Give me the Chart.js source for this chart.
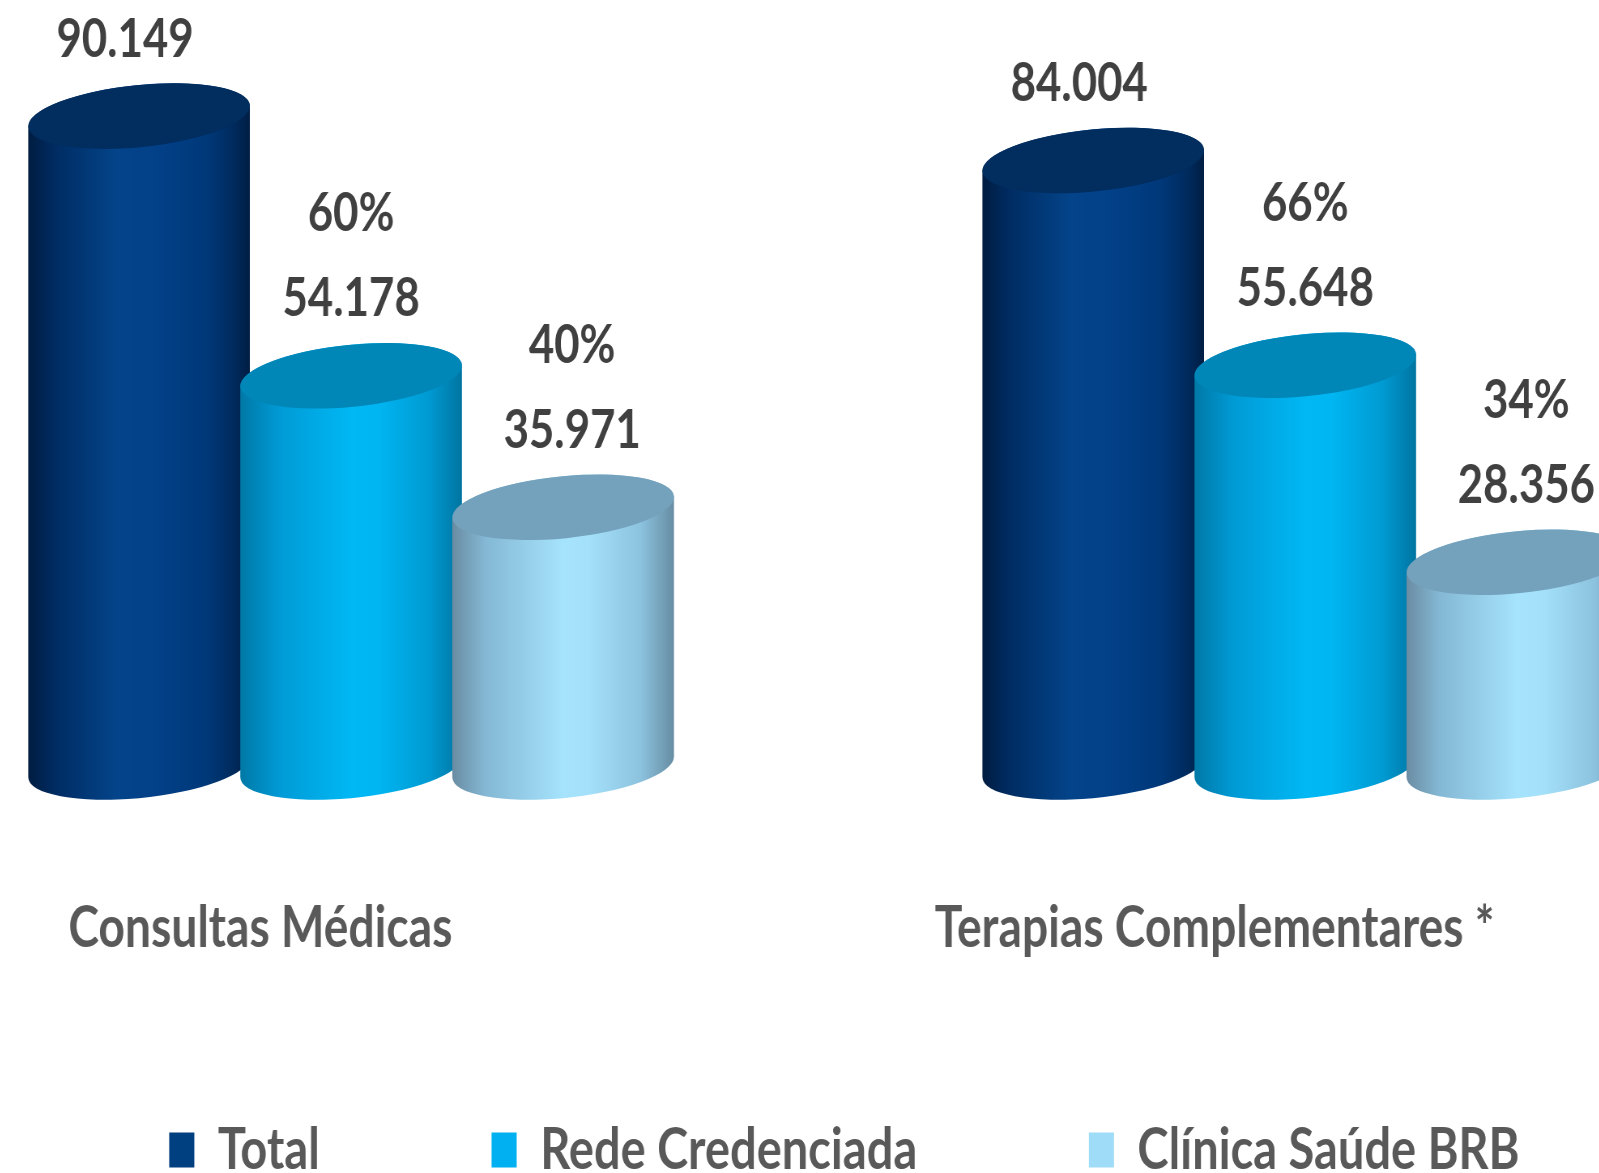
<!DOCTYPE html>
<html lang="pt-BR">
<head>
<meta charset="utf-8">
<title>Consultas Médicas e Terapias Complementares</title>
<script src="https://cdn.jsdelivr.net/npm/chart.js@4.4.1/dist/chart.umd.min.js"></script>
<style>
  html, body { margin: 0; padding: 0; background: #fff; overflow: hidden; }
  #moldura { position: relative; width: 1599px; height: 1173px; overflow: hidden; background: #fff; }
  /* canvas mais largo que a janela, comprimido na horizontal (fonte condensada) */
  #grafico { position: absolute; left: -126px; top: 0; width: 2396px; height: 1189px;
             transform: scaleX(0.81); transform-origin: 0 0; }
</style>
</head>
<body>
<div id="moldura"><canvas id="grafico" width="2396" height="1189"></canvas></div>
<script>
var categorias = ['Consultas Médicas', 'Terapias Complementares *'];
var series = ['Total', 'Rede Credenciada', 'Clínica Saúde BRB'];
var total = [90149, 84004];
var redeCredenciada = [54178, 55648];
var clinicaBRB = [35971, 28356];

var ESTREITO = 0.81;   // mesmo fator do scaleX no CSS
var FONTE = 'Lato, "Open Sans", sans-serif';

Chart.defaults.font.family = FONTE;

// aparência de cada cilindro: gradiente lateral, tampa e deslocamento do rótulo
var estilos = [
  { cor: '#003f80', topo: '#012d5f', desvio: -14,
    lado: [[0, '#001c40'], [0.12, '#002c62'], [0.4, '#04448a'], [0.55, '#034189'], [0.8, '#00397a'], [0.93, '#002a5c'], [1, '#001d42']] },
  { cor: '#00b0f0', topo: '#0087b8', desvio: 0,
    lado: [[0, '#0078a6'], [0.18, '#009bd6'], [0.5, '#00b8f4'], [0.62, '#00b6f2'], [0.85, '#009ad2'], [1, '#0074a0']] },
  { cor: '#9fdcf7', topo: '#74a2bc', desvio: 9,
    lado: [[0, '#6a8ca2'], [0.15, '#84b8d4'], [0.5, '#a6e3fc'], [0.62, '#a4e0fa'], [0.85, '#8cc2de'], [1, '#668ca2']] }
];

function formatar(n) {
  return String(n).replace(/\B(?=(\d{3})+(?!\d))/g, '.');
}

function desenharCilindro(ctx, bar, est) {
  var cx = bar.x * ESTREITO;
  var rx = bar.width * ESTREITO / 2;
  var ry = 31, rot = -0.1;
  // ângulo paramétrico do ponto mais à direita da elipse inclinada
  var t0 = Math.atan2(-ry * Math.sin(rot), rx * Math.cos(rot));
  ctx.save();
  ctx.scale(1 / ESTREITO, 1);
  var g = ctx.createLinearGradient(cx - rx, 0, cx + rx, 0);
  est.lado.forEach(function (s) { g.addColorStop(s[0], s[1]); });
  ctx.beginPath();
  ctx.ellipse(cx, bar.base, rx, ry, rot, t0, t0 + Math.PI);
  ctx.ellipse(cx, bar.y, rx, ry, rot, t0 + Math.PI, t0 + 2 * Math.PI);
  ctx.closePath();
  ctx.fillStyle = g;
  ctx.fill();
  ctx.beginPath();
  ctx.ellipse(cx, bar.y, rx, ry, rot, 0, 2 * Math.PI);
  ctx.fillStyle = est.topo;
  ctx.fill();
  ctx.restore();
}

var cilindros = {
  id: 'cilindros',
  // o eixo x fica baixo para a legenda caber; os rótulos descem além dele
  afterLayout: function (chart) {
    chart.scales.x.bottom = chart.height;
  },
  beforeDatasetDraw: function () { return false; },
  afterDatasetsDraw: function (chart) {
    var ctx = chart.ctx;
    chart.data.datasets.forEach(function (ds, i) {
      chart.getDatasetMeta(i).data.forEach(function (bar) {
        desenharCilindro(ctx, bar, estilos[i]);
      });
    });

    ctx.save();
    ctx.font = 'bold 54px ' + FONTE;
    ctx.fillStyle = '#404040';
    ctx.textAlign = 'center';
    ctx.textBaseline = 'middle';
    chart.data.datasets.forEach(function (ds, i) {
      chart.getDatasetMeta(i).data.forEach(function (bar, j) {
        var x = bar.x + estilos[i].desvio / ESTREITO;
        var y = bar.y - 77;
        ctx.fillText(formatar(ds.data[j]), x, y);
        if (i > 0) {
          ctx.fillText(Math.round(ds.data[j] / total[j] * 100) + '%', x, y - 85);
        }
      });
    });
    ctx.restore();
  }
};

var valores = [total, redeCredenciada, clinicaBRB];

new Chart(document.getElementById('grafico'), {
  type: 'bar',
  data: {
    labels: categorias,
    datasets: valores.map(function (v, i) {
      return {
        label: series[i],
        data: v,
        backgroundColor: estilos[i].cor,
        borderWidth: 0,
        categoryPercentage: 0.6667,
        barPercentage: 1.05
      };
    })
  },
  options: {
    responsive: false,
    animation: false,
    layout: { padding: { top: 45, left: 0, right: 0, bottom: 0 } },
    scales: {
      x: {
        grid: { display: false, drawTicks: false },
        border: { display: false },
        ticks: {
          padding: 127,
          labelOffset: -112,
          maxRotation: 0,
          autoSkip: false,
          color: '#595959',
          font: { size: 57, weight: 'bold' }
        },
        afterFit: function (scale) { scale.height = 142; }
      },
      // eixo de valores invisível, à direita, só ocupando espaço
      y: {
        position: 'right',
        min: 0,
        max: 100000,
        grid: { display: false, drawTicks: false },
        border: { display: false },
        ticks: { display: false },
        afterFit: function (scale) { scale.width = 40; }
      }
    },
    plugins: {
      legend: {
        position: 'bottom',
        labels: {
          boxWidth: 31,
          boxHeight: 35,
          padding: 212,
          color: '#595959',
          font: { size: 58, weight: 'bold' }
        }
      },
      tooltip: { enabled: false }
    }
  },
  plugins: [cilindros]
});
</script>
</body>
</html>
